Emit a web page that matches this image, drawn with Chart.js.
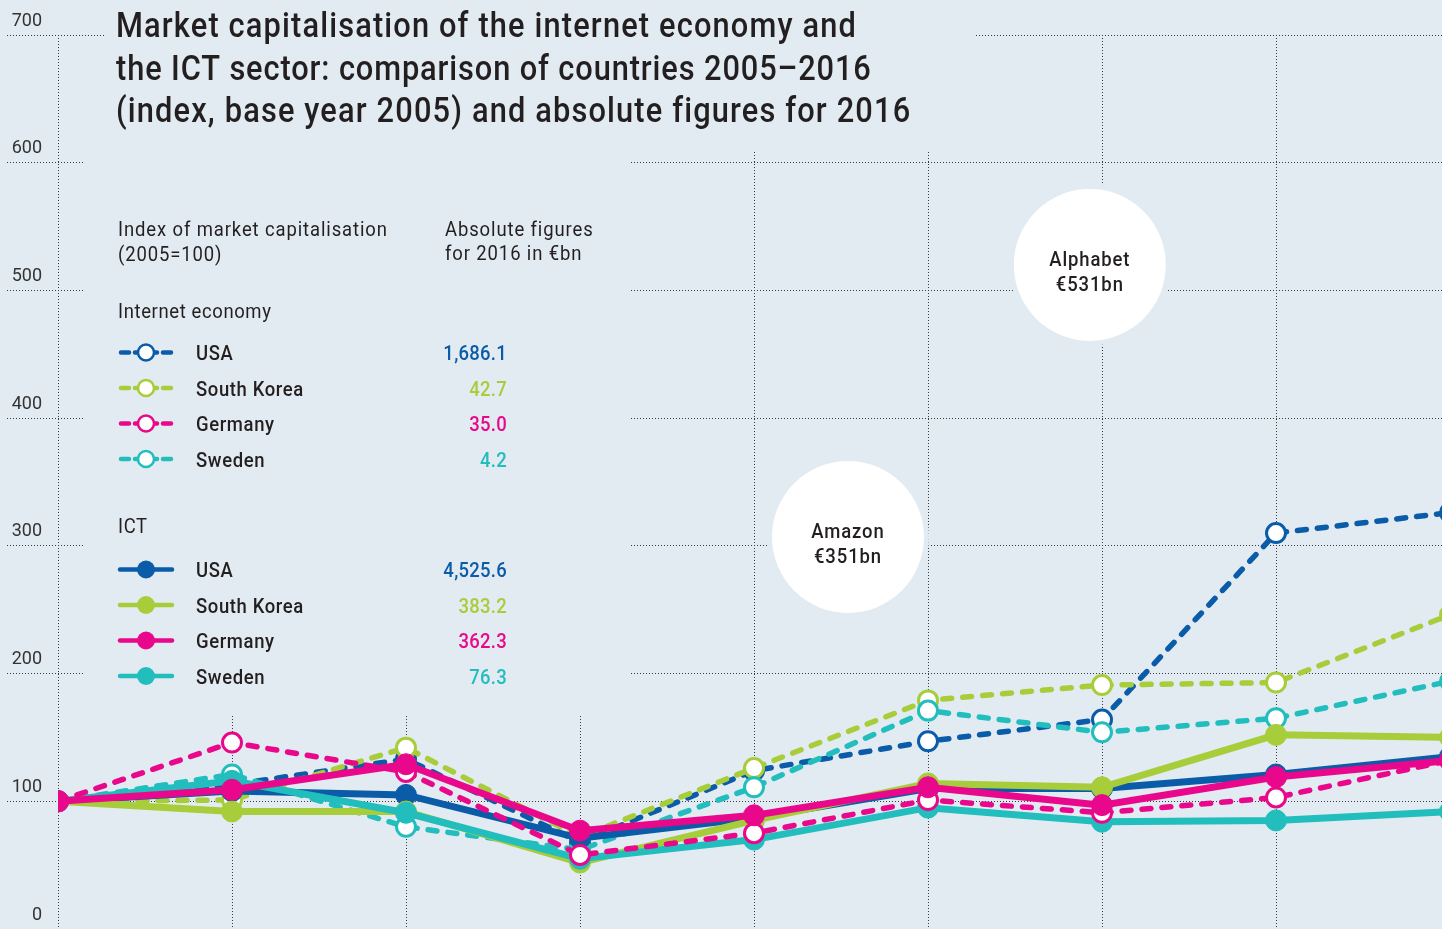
<!DOCTYPE html>
<html>
<head>
<meta charset="utf-8">
<script src="https://cdn.jsdelivr.net/npm/chart.js@4/dist/chart.umd.min.js"></script>
<style>
  html, body { margin: 0; padding: 0; background: #e2ebf1; overflow: hidden; }
  #wrap { width: 1442px; height: 929px; position: relative; }
</style>
</head>
<body>
<div id="wrap"><canvas id="marketCap"></canvas></div>
<script>
  // index values, 2005 = 100 (2013 only used for the line running off the right edge)
  const years = [2005, 2006, 2007, 2008, 2009, 2010, 2011, 2012, 2013];
  const countries = ['USA', 'South Korea', 'Germany', 'Sweden'];

  const netUSA     = [100, 113, 133, 68, 124, 147, 164, 310, 326];
  const netKorea   = [100, 101, 142, 72, 126, 179, 191, 193, 246];
  const netGermany = [100, 146, 123, 58, 75, 101, 91, 103, 132];
  const netSweden  = [100, 121, 80, 62, 111, 171, 154, 165, 194];

  const ictUSA     = [100, 108, 105, 71, 87, 110, 110, 121, 135];
  const ictKorea   = [100, 92, 92, 52, 85, 114, 111, 152, 150];
  const ictGermany = [100, 109, 129, 77, 89, 111, 97, 119, 132];
  const ictSweden  = [100, 116, 91, 55, 70, 95, 84, 85, 92];

  // absolute figures for 2016 in EUR bn
  const netAbsolute = ['1,686.1', '42.7', '35.0', '4.2'];
  const ictAbsolute = ['4,525.6', '383.2', '362.3', '76.3'];

  const yTicks = [0, 100, 200, 300, 400, 500, 600, 700];

  // company bubbles: [name, value, year position, index position]
  const bubbles = [
    ['Amazon', '€351bn', 2009.54, 307],
    ['Alphabet', '€531bn', 2010.93, 520]
  ];

  const BG = '#e2ebf1';
  const INK = '#231f20';
  const GRID = '#3a3a3a';
  const colours = ['#0a5ca8', '#a8cd3a', '#e9088b', '#22bdbd'];
  const FONT = 'Roboto, "DejaVu Sans", sans-serif';
  const SQUEEZE = 0.88;

  function toPoints(values) {
    return years.map((yr, i) => ({ x: yr, y: values[i] }));
  }

  function internetSeries(idx, values, order) {
    return {
      label: 'Internet economy ' + countries[idx],
      data: toPoints(values),
      borderColor: colours[idx],
      borderWidth: 5.5,
      borderDash: [9, 11],
      borderCapStyle: 'round',
      pointRadius: 9.5,
      pointBorderWidth: 3,
      pointBorderColor: colours[idx],
      pointBackgroundColor: '#ffffff',
      tension: 0,
      order: order
    };
  }

  function ictSeries(idx, values, order) {
    return {
      label: 'ICT ' + countries[idx],
      data: toPoints(values),
      borderColor: colours[idx],
      borderWidth: 7,
      borderCapStyle: 'round',
      pointRadius: 10.5,
      pointBorderWidth: 1,
      pointBorderColor: colours[idx],
      pointBackgroundColor: colours[idx],
      tension: 0,
      order: order
    };
  }

  function squeezedText(ctx, text, x, y, font, colour, align, spacing) {
    ctx.save();
    ctx.font = font;
    ctx.fillStyle = colour;
    ctx.textBaseline = 'alphabetic';
    ctx.textAlign = align || 'left';
    ctx.letterSpacing = (spacing || 0) + 'px';
    ctx.translate(x, y);
    ctx.scale(SQUEEZE, 1);
    ctx.fillText(text, 0, 0);
    ctx.restore();
  }

  // clears the grid behind the title, legend and bubbles
  const backdrop = {
    id: 'backdrop',
    beforeDatasetsDraw(chart) {
      const ctx = chart.ctx;
      const xs = chart.scales.x, ys = chart.scales.y;
      ctx.save();
      ctx.fillStyle = BG;
      ctx.fillRect(105, 0, 870, 151);
      ctx.fillRect(85, 151, 545, 564);
      bubbles.forEach(b => {
        const cx = xs.getPixelForValue(b[2]);
        const cy = ys.getPixelForValue(b[3]);
        ctx.fillStyle = BG;
        ctx.beginPath();
        ctx.arc(cx, cy, 81, 0, Math.PI * 2);
        ctx.fill();
        ctx.fillStyle = '#ffffff';
        ctx.beginPath();
        ctx.arc(cx, cy, 76, 0, Math.PI * 2);
        ctx.fill();
        squeezedText(ctx, b[0], cx, cy + 1, '500 21px ' + FONT, INK, 'center', 1);
        squeezedText(ctx, b[1], cx, cy + 26, '500 21px ' + FONT, INK, 'center', 1);
      });
      ctx.restore();
    }
  };

  function legendSymbol(ctx, x, y, ds, dashed) {
    ctx.save();
    ctx.strokeStyle = ds.borderColor;
    ctx.lineCap = 'round';
    ctx.lineWidth = 4.5;
    ctx.beginPath();
    if (dashed) {
      ctx.moveTo(x + 3, y); ctx.lineTo(x + 11, y);
      ctx.moveTo(x + 45, y); ctx.lineTo(x + 53, y);
      ctx.moveTo(x + 17, y); ctx.lineTo(x + 20, y);
      ctx.moveTo(x + 36, y); ctx.lineTo(x + 39, y);
    } else {
      ctx.moveTo(x + 2, y); ctx.lineTo(x + 54, y);
    }
    ctx.stroke();
    ctx.beginPath();
    ctx.arc(x + 28, y, dashed ? 8 : 9, 0, Math.PI * 2);
    ctx.fillStyle = dashed ? '#ffffff' : ds.borderColor;
    ctx.fill();
    if (dashed) {
      ctx.lineWidth = 2.5;
      ctx.stroke();
    }
    ctx.restore();
  }

  const annotations = {
    id: 'annotations',
    afterDraw(chart) {
      const ctx = chart.ctx;
      const titleFont = '500 35px ' + FONT;
      squeezedText(ctx, 'Market capitalisation of the internet economy and', 116, 37, titleFont, INK, 'left', 1.3);
      squeezedText(ctx, 'the ICT sector: comparison of countries 2005–2016', 116, 80, titleFont, INK, 'left', 1.0);
      squeezedText(ctx, '(index, base year 2005) and absolute figures for 2016', 116, 122, titleFont, INK, 'left', 1.3);

      const f = '400 21px ' + FONT;
      const fm = '500 21px ' + FONT;
      squeezedText(ctx, 'Index of market capitalisation', 118, 236, f, INK, 'left', 1);
      squeezedText(ctx, '(2005=100)', 118, 261, f, INK, 'left', 1);
      squeezedText(ctx, 'Absolute figures', 445, 236, f, INK, 'left', 1);
      squeezedText(ctx, 'for 2016 in €bn', 445, 260, f, INK, 'left', 1);

      const ds = chart.data.datasets;
      const groups = [
        { title: 'Internet economy', top: 318, first: 360, sets: ds.slice(0, 4), abs: netAbsolute, dashed: true },
        { title: 'ICT', top: 533, first: 577, sets: ds.slice(4, 8), abs: ictAbsolute, dashed: false }
      ];
      groups.forEach(g => {
        squeezedText(ctx, g.title, 118, g.top, f, INK, 'left', 0.7);
        countries.forEach((name, i) => {
          const base = g.first + i * 35.5;
          legendSymbol(ctx, 118, base - 7.5, g.sets[i], g.dashed);
          squeezedText(ctx, name, 196, base, fm, INK, 'left', 0.7);
          squeezedText(ctx, g.abs[i], 507, base, fm, colours[i], 'right', 0.3);
        });
      });
    }
  };

  const datasets = [
    internetSeries(0, netUSA, 8),
    internetSeries(1, netKorea, 7),
    internetSeries(2, netGermany, 2),
    internetSeries(3, netSweden, 6),
    ictSeries(0, ictUSA, 5),
    ictSeries(1, ictKorea, 4),
    ictSeries(2, ictGermany, 1),
    ictSeries(3, ictSweden, 3)
  ];

  new Chart(document.getElementById('marketCap').getContext('2d'), {
    type: 'line',
    data: { datasets: datasets },
    options: {
      responsive: true,
      maintainAspectRatio: false,
      animation: false,
      layout: { autoPadding: false, padding: { top: 35, right: 0, bottom: 0, left: 0 } },
      plugins: {
        legend: { display: false },
        tooltip: { enabled: false }
      },
      scales: {
        x: {
          type: 'linear',
          min: 2005,
          max: 2012.954,
          afterBuildTicks: scale => { scale.ticks = years.map(v => ({ value: v })); },
          ticks: { display: false },
          border: { display: false, dash: [1, 2] },
          grid: { color: GRID, lineWidth: 1, drawTicks: false }
        },
        y: {
          min: 0,
          max: 700,
          afterBuildTicks: scale => { scale.ticks = yTicks.map(v => ({ value: v })); },
          afterFit: scale => { scale.width = 58; },
          border: { display: false, dash: [1, 2] },
          grid: {
            color: GRID, lineWidth: 1,
            tickLength: 51, tickColor: GRID, tickWidth: 1, tickBorderDash: [1, 2]
          },
          ticks: {
            padding: -35,
            crossAlign: 'near',
            labelOffset: -14,
            color: '#333333',
            font: { family: 'Roboto', size: 18, weight: '400' }
          }
        }
      }
    },
    plugins: [backdrop, annotations]
  });
</script>
</body>
</html>
